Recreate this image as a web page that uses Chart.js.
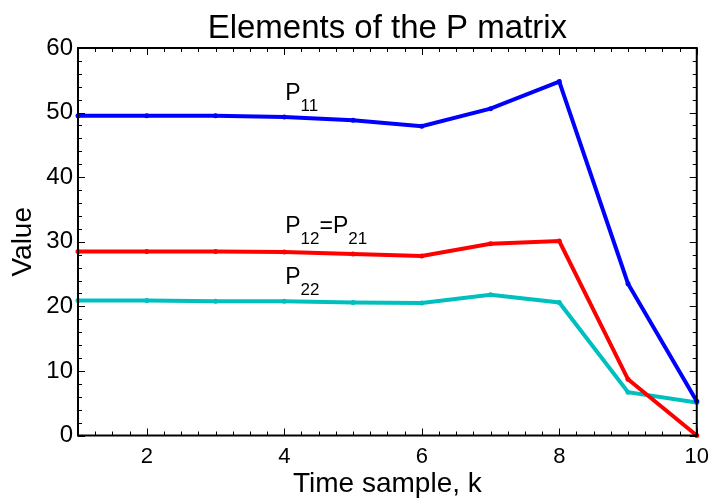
<!DOCTYPE html>
<html>
<head>
<meta charset="utf-8">
<script src="https://cdn.jsdelivr.net/npm/chart.js@4"></script>
<style>
  html, body { margin: 0; padding: 0; background: #fff; }
  #wrap { width: 717px; height: 504px; }
</style>
</head>
<body>
<div id="wrap"><canvas id="myChart" width="717" height="504"></canvas></div>
<script>
var samples = [1, 2, 3, 4, 5, 6, 7, 8, 9, 10];
var p11 = [49.5, 49.5, 49.5, 49.3, 48.8, 47.9, 50.6, 54.8, 23.5, 5.3];
var p12 = [28.5, 28.5, 28.5, 28.4, 28.1, 27.8, 29.7, 30.1, 8.7, 0];
var p22 = [20.9, 20.9, 20.8, 20.8, 20.6, 20.5, 21.8, 20.6, 6.7, 5.1];
var xTicks = [2, 4, 6, 8, 10];
var yTicks = [0, 10, 20, 30, 40, 50, 60];

var FONT = "'Liberation Sans', Arial, Helvetica, sans-serif";

function pts(vals){
    return vals.map(function(v, i){ return {x: samples[i], y: v}; });
}

// text labels next to the curves: [x, y, parts]
var notes = [
    [4, 52.0, [['P', 0], ['11', 1]]],
    [4, 31.3, [['P', 0], ['12', 1], ['=P', 0], ['21', 1]]],
    [4, 23.5, [['P', 0], ['22', 1]]]
];

var matlabBox = {
    id: 'matlabBox',
    afterDraw: function(chart){
        var c = chart.ctx, a = chart.chartArea;
        var xs = chart.scales.x, ys = chart.scales.y;
        c.save();
        c.strokeStyle = '#000';
        c.lineWidth = 2;
        c.strokeRect(a.left, a.top, a.right - a.left, a.bottom - a.top);
        c.lineWidth = 1;
        c.beginPath();
        // y ticks, inward, both sides
        for (var v = 0; v <= 60; v += 2) {
            var py = Math.round(ys.getPixelForValue(v)) + 0.5;
            var len = (v % 10 === 0) ? 7 : 4;
            c.moveTo(a.left, py); c.lineTo(a.left + len, py);
            c.moveTo(a.right, py); c.lineTo(a.right - len, py);
        }
        // x ticks, inward, top and bottom
        for (var k = 1; k <= 10.001; k += 0.25) {
            var px = Math.round(xs.getPixelForValue(k)) + 0.5;
            var l2 = (Math.abs(k % 2) < 0.01) ? 7 : 4;
            c.moveTo(px, a.bottom); c.lineTo(px, a.bottom - l2);
            c.moveTo(px, a.top); c.lineTo(px, a.top + l2);
        }
        c.stroke();

        // title
        c.fillStyle = '#000';
        c.textAlign = 'center';
        c.textBaseline = 'alphabetic';
        c.font = '33px ' + FONT;
        c.fillText('Elements of the P matrix', (a.left + a.right) / 2, 38);

        // curve labels
        c.textAlign = 'left';
        notes.forEach(function(n){
            var x = xs.getPixelForValue(n[0]) + 1;
            var y = ys.getPixelForValue(n[1]);
            n[2].forEach(function(p){
                c.font = (p[1] ? '17px ' : '23px ') + FONT;
                var yy = p[1] ? y + 11 : y;
                c.fillText(p[0], x, yy);
                x += c.measureText(p[0]).width;
            });
        });
        c.restore();
    }
};

var ctx = document.getElementById('myChart');
var myChart = new Chart(ctx, {
    type: 'line',
    data: {
        datasets: [
            { label: 'P11', data: pts(p11), borderColor: '#0000ff', backgroundColor: '#0000ff' },
            { label: 'P12=P21', data: pts(p12), borderColor: '#ff0000', backgroundColor: '#ff0000' },
            { label: 'P22', data: pts(p22), borderColor: '#00bfbf', backgroundColor: '#00bfbf' }
        ]
    },
    options: {
        responsive: false,
        animation: false,
        layout: { padding: { left: 0, right: 16, top: 48, bottom: 0 } },
        elements: {
            line: { borderWidth: 4, tension: 0 },
            point: { radius: 2.5, borderWidth: 0, hoverRadius: 2.5 }
        },
        datasets: { line: { clip: false } },
        plugins: {
            legend: { display: false },
            title: { display: false },
            tooltip: { enabled: false }
        },
        scales: {
            x: {
                type: 'linear',
                min: 1, max: 10,
                grid: { display: false, tickLength: 0 },
                border: { display: false },
                afterBuildTicks: function(s){ s.ticks = xTicks.map(function(v){ return {value: v}; }); },
                afterFit: function(s){ s.height = 68.5; },
                ticks: { color: '#000', font: { family: FONT, size: 22 }, padding: 8, maxRotation: 0 },
                title: { display: true, text: 'Time sample, k', color: '#000', font: { family: FONT, size: 28 }, padding: { top: 3, bottom: 3 } }
            },
            y: {
                min: 0, max: 60,
                grid: { display: false, tickLength: 0 },
                border: { display: false },
                afterBuildTicks: function(s){ s.ticks = yTicks.map(function(v){ return {value: v}; }); },
                afterFit: function(s){ s.width = 78; },
                ticks: { color: '#000', font: { family: FONT, size: 24 }, padding: 5 },
                title: { display: true, text: 'Value', color: '#000', font: { family: FONT, size: 28 }, padding: { top: 6, bottom: 6 } }
            }
        }
    },
    plugins: [matlabBox]
});
</script>
</body>
</html>
